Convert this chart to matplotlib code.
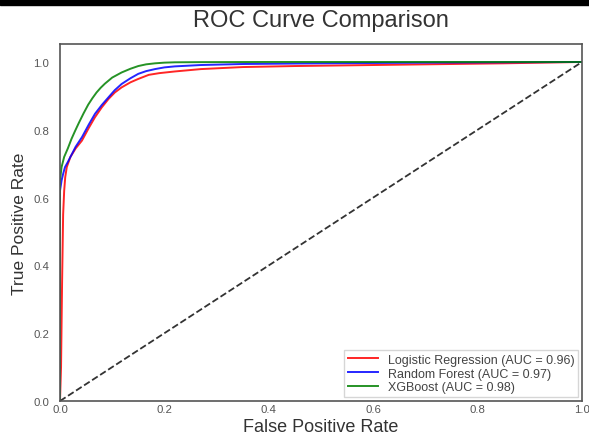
import matplotlib
matplotlib.use("Agg")
import matplotlib.pyplot as plt
from matplotlib.patches import Rectangle

# ROC points
lr_fpr = [0, 0.002, 0.004, 0.006, 0.008, 0.010, 0.013, 0.02, 0.03, 0.042, 0.055, 0.067,
          0.08, 0.093, 0.105, 0.118, 0.135, 0.15, 0.17, 0.19, 0.22, 0.27, 0.35, 0.45,
          0.55, 0.7, 0.85, 1.0]
lr_tpr = [0, 0.1, 0.35, 0.55, 0.62, 0.66, 0.69, 0.72, 0.745, 0.768, 0.805, 0.837,
          0.866, 0.891, 0.91, 0.925, 0.94, 0.95, 0.962, 0.967, 0.972, 0.979, 0.985, 0.988,
          0.99, 0.993, 0.996, 1.0]

rf_fpr = [0, 0, 0.003, 0.006, 0.0096, 0.015, 0.02, 0.03, 0.042, 0.055, 0.067, 0.08, 0.093,
          0.105, 0.118, 0.135, 0.15, 0.165, 0.182, 0.2, 0.22, 0.27, 0.35, 0.5, 0.7, 1.0]
rf_tpr = [0, 0.62, 0.65, 0.67, 0.69, 0.705, 0.72, 0.75, 0.778, 0.815, 0.847, 0.873, 0.896,
          0.917, 0.935, 0.952, 0.965, 0.973, 0.979, 0.984, 0.987, 0.991, 0.994, 0.996, 0.998, 1.0]

xgb_fpr = [0, 0, 0.003, 0.008, 0.015, 0.022, 0.029, 0.036, 0.045, 0.054, 0.062, 0.07,
           0.078, 0.086, 0.1, 0.118, 0.135, 0.15, 0.165, 0.182, 0.2, 0.22, 0.27, 0.4, 0.6, 1.0]
xgb_tpr = [0, 0.65, 0.69, 0.72, 0.745, 0.773, 0.797, 0.82, 0.848, 0.874, 0.893, 0.91,
           0.924, 0.936, 0.954, 0.969, 0.98, 0.988, 0.993, 0.996, 0.998, 0.999, 0.9995, 1.0, 1.0, 1.0]

labels = ["Logistic Regression (AUC = 0.96)",
          "Random Forest (AUC = 0.97)",
          "XGBoost (AUC = 0.98)"]
line_colors = ["red", "blue", "green"]

plt.rcParams['font.family'] = ['Liberation Sans', 'DejaVu Sans']

fig = plt.figure(figsize=(5.89, 4.35), dpi=100)
ax = fig.add_axes([60 / 589, 1 - 402 / 435, 522 / 589, 357 / 435])

curves = [(lr_fpr, lr_tpr), (rf_fpr, rf_tpr), (xgb_fpr, xgb_tpr)]
for (fpr, tpr), label, c in zip(curves, labels, line_colors):
    ax.plot(fpr, tpr, color=c, lw=1.4, alpha=0.85, label=label)
ax.plot([0, 1], [0, 1], 'k--', lw=1.3, alpha=0.8)

ax.set_xlim(0, 1)
ax.set_ylim(0, 1.053)
ax.set_xticks([0, 0.2, 0.4, 0.6, 0.8, 1.0])
ax.set_yticks([0, 0.2, 0.4, 0.6, 0.8, 1.0])
ax.tick_params(length=0, labelsize=8.2, labelcolor='#555555')
ax.tick_params(axis='x', pad=2.5)
ax.tick_params(axis='y', pad=8)
for sp in ax.spines.values():
    sp.set_color('#555555')
    sp.set_linewidth(1.2)

ax.set_xlabel("False Positive Rate", fontsize=13, color='#333333', va='baseline')
ax.xaxis.set_label_coords(0.5, -0.084)
ax.set_ylabel("True Positive Rate", fontsize=12.5, color='#333333', labelpad=4)
ax.set_title("ROC Curve Comparison", fontsize=17, color='#333333', pad=13)

leg = ax.legend(loc='lower right', fontsize=9, frameon=True, fancybox=False,
                edgecolor='#cccccc', handlelength=2.4, borderaxespad=0.3,
                labelspacing=0.15, borderpad=0.3, handletextpad=0.8)
for t in leg.get_texts():
    t.set_color('#444444')

# black band across the top of the screenshot
fig.patches.append(Rectangle((0, 1 - 6 / 435), 1, 6 / 435, transform=fig.transFigure,
                             color='black', zorder=10))

fig.savefig("out.png", dpi=100)
